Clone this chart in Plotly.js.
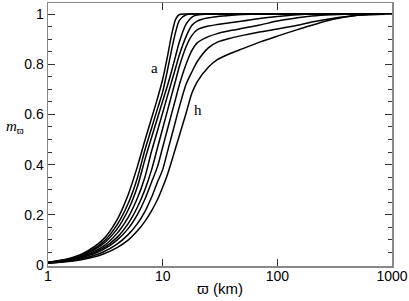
<!DOCTYPE html>
<html>
<head>
<meta charset="utf-8">
<script src="https://cdn.plot.ly/plotly-3.0.1.min.js"></script>
<style>html,body{margin:0;padding:0;background:#fff;}#chart{width:409px;height:301px;}</style>
</head>
<body>
<div id="chart"></div>
<script>
const xKm = [1, 1.5, 2, 3, 4, 5, 6, 7, 8, 9, 10, 11, 12, 13, 14, 16, 18, 20, 25, 30, 40, 50, 70, 100, 150, 200, 300, 500, 1000];
const curveA = [0.011, 0.025, 0.045, 0.10, 0.18, 0.28, 0.39, 0.496, 0.585, 0.663, 0.74, 0.83, 0.92, 0.98, 0.998, 1, 1, 1, 1, 1, 1, 1, 1, 1, 1, 1, 1, 1, 1];
const curveB = [0.0107, 0.023, 0.040, 0.09, 0.16, 0.245, 0.345, 0.458, 0.545, 0.622, 0.69, 0.775, 0.86, 0.93, 0.975, 0.997, 1, 1, 1, 1, 1, 1, 1, 1, 1, 1, 1, 1, 1];
const curveC = [0.010, 0.022, 0.038, 0.083, 0.143, 0.219, 0.31, 0.42, 0.508, 0.585, 0.653, 0.714, 0.775, 0.835, 0.89, 0.96, 0.988, 0.996, 1, 1, 1, 1, 1, 1, 1, 1, 1, 1, 1];
const curveD = [0.0097, 0.019, 0.034, 0.073, 0.126, 0.19, 0.265, 0.35, 0.453, 0.534, 0.607, 0.673, 0.732, 0.787, 0.838, 0.91, 0.955, 0.972, 0.985, 0.99, 0.995, 0.998, 1, 1, 1, 1, 1, 1, 1];
const curveE = [0.009, 0.018, 0.032, 0.066, 0.110, 0.165, 0.229, 0.30, 0.379, 0.466, 0.544, 0.614, 0.679, 0.737, 0.792, 0.87, 0.915, 0.937, 0.952, 0.958, 0.966, 0.972, 0.982, 0.99, 0.997, 1, 1, 1, 1];
const curveF = [0.0087, 0.017, 0.0294, 0.060, 0.099, 0.145, 0.20, 0.262, 0.33, 0.391, 0.469, 0.540, 0.605, 0.664, 0.719, 0.80, 0.855, 0.885, 0.91, 0.922, 0.935, 0.943, 0.956, 0.972, 0.985, 0.992, 0.997, 1, 1];
const curveG = [0.0078, 0.015, 0.0254, 0.051, 0.083, 0.121, 0.164, 0.213, 0.27, 0.33, 0.38, 0.451, 0.516, 0.576, 0.631, 0.72, 0.77, 0.81, 0.865, 0.888, 0.905, 0.915, 0.928, 0.94, 0.955, 0.968, 0.982, 0.995, 1];
const curveH = [0.007, 0.014, 0.022, 0.043, 0.069, 0.099, 0.135, 0.174, 0.216, 0.26, 0.31, 0.36, 0.415, 0.468, 0.516, 0.605, 0.685, 0.73, 0.788, 0.818, 0.845, 0.862, 0.888, 0.912, 0.938, 0.955, 0.978, 0.995, 1];
const curveNames = ['a', 'b', 'c', 'd', 'e', 'f', 'g', 'h'];
const curves = [curveA, curveB, curveC, curveD, curveE, curveF, curveG, curveH];
const xTickVals = [1, 10, 100, 1000];
const xTickText = ['1', '10', '100', '1000'];
const yTickVals = [0, 0.2, 0.4, 0.6, 0.8, 1];
const yTickText = ['0', '0.2', '0.4', '0.6', '0.8', '1'];
const labelA = {x: 8.57, y: 0.785, text: 'a'};
const labelH = {x: 20.3, y: 0.617, text: 'h'};

const traces = curves.map((ys, i) => ({
  x: xKm, y: ys, name: curveNames[i], type: 'scatter', mode: 'lines',
  line: {color: '#000', width: 1.5, shape: 'spline', smoothing: 0.8},
  hoverinfo: 'skip'
}));

const tickFont = {family: 'Liberation Sans, Arial, sans-serif', size: 14, color: '#000'};
const layout = {
  width: 409, height: 301,
  margin: {l: 48, r: 17, t: 3, b: 35},
  paper_bgcolor: '#fff', plot_bgcolor: '#fff',
  showlegend: false,
  xaxis: {
    type: 'log', range: [0, 3],
    tickvals: xTickVals, ticktext: xTickText,
    ticks: 'inside', ticklen: 7, tickwidth: 1, tickcolor: '#333',
    showline: true, linecolor: '#888', linewidth: 1.5, mirror: 'allticks',
    showgrid: false, zeroline: false,
    tickfont: tickFont, ticklabelstandoff: -3,
    title: {text: 'ϖ (km)', font: {family: 'Liberation Sans, Arial, sans-serif', size: 15, color: '#000'}, standoff: 0}
  },
  yaxis: {
    range: [-0.004, 1.044],
    tickvals: yTickVals, ticktext: yTickText,
    ticks: 'inside', ticklen: 7, tickwidth: 1, tickcolor: '#333',
    minor: {dtick: 0.05, ticks: 'inside', ticklen: 4, tickcolor: '#333', showgrid: false},
    showline: true, linecolor: '#888', linewidth: 1.5, mirror: 'allticks',
    showgrid: false, zeroline: false,
    tickfont: tickFont
  },
  annotations: [
    {x: Math.log10(labelA.x), y: labelA.y, xref: 'x', yref: 'y', text: labelA.text, showarrow: false,
     font: {family: 'Liberation Serif, Times New Roman, serif', size: 15, color: '#000'}},
    {x: Math.log10(labelH.x), y: labelH.y, xref: 'x', yref: 'y', text: labelH.text, showarrow: false,
     font: {family: 'Liberation Serif, Times New Roman, serif', size: 15, color: '#000'}},
    {x: 0, y: 0.53, xref: 'paper', yref: 'paper', xanchor: 'left', yanchor: 'middle', xshift: -44,
     text: '<i>m</i><sub>ϖ</sub>', showarrow: false,
     font: {family: 'Liberation Serif, Times New Roman, serif', size: 15, color: '#000'}}
  ]
};
Plotly.newPlot('chart', traces, layout, {staticPlot: true, displayModeBar: false});
</script>
</body>
</html>
